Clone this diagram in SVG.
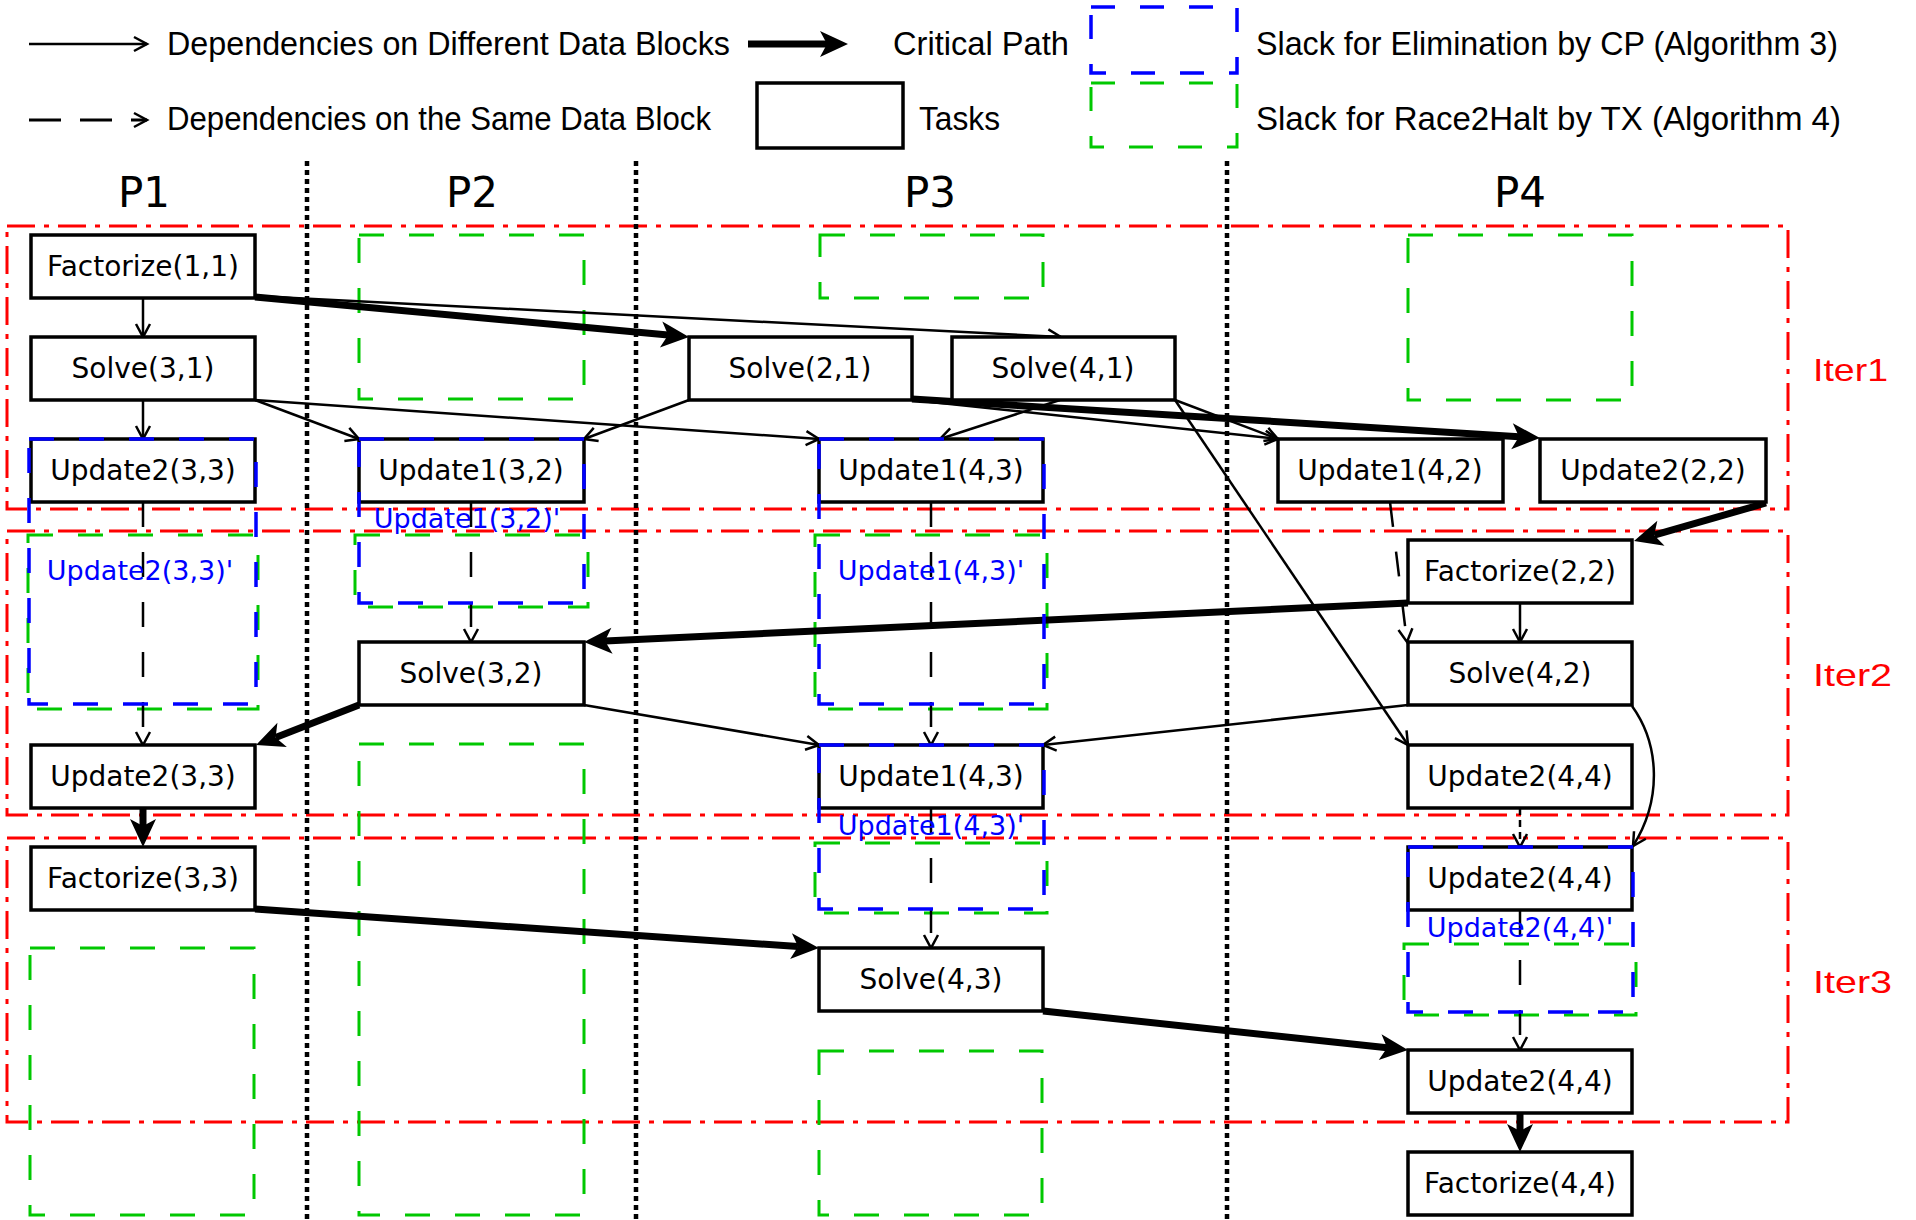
<svg xmlns="http://www.w3.org/2000/svg" width="1916" height="1220" viewBox="0 0 1916 1220">
<defs>
<style>
.task rect{fill:#fff;stroke:#000;stroke-width:3.5}
.task text{font-family:"DejaVu Sans",sans-serif;font-size:28px;text-anchor:middle;fill:#000}
.lbl{font-family:"Liberation Sans",sans-serif;font-size:33px;fill:#000}
.iter{font-family:"Liberation Sans",sans-serif;font-size:32px;fill:#ff0000}
.proc{font-family:"DejaVu Sans",sans-serif;font-size:42px;text-anchor:middle;fill:#000}
.prime{font-family:"DejaVu Sans",sans-serif;font-size:27px;text-anchor:middle;fill:#0000ff}
.red{fill:none;stroke:#ff0000;stroke-width:3;stroke-dasharray:28 9 5 9}
.div{stroke:#000;stroke-width:4.5;stroke-dasharray:5 4}
.green{fill:none;stroke:#00c800;stroke-width:3;stroke-dasharray:25 25}
.blue{fill:none;stroke:#0000ff;stroke-width:3.5;stroke-dasharray:25 25}
.thin{fill:none;stroke:#000;stroke-width:2.5;marker-end:url(#mthin)}
.dash{fill:none;stroke:#000;stroke-width:2.5;stroke-dasharray:25 25;marker-end:url(#mthin)}
.dashs{fill:none;stroke:#000;stroke-width:2.5;stroke-dasharray:7 5;marker-end:url(#mthin)}
.thick{fill:none;stroke:#000;stroke-width:7;marker-end:url(#mthick)}
</style>
<marker id="mthin" markerUnits="userSpaceOnUse" orient="auto" overflow="visible" markerWidth="1" markerHeight="1" refX="0" refY="0">
<path d="M-13,-7 L0,0 L-13,7" fill="none" stroke="#000" stroke-width="2.5"/>
</marker>
<marker id="mthick" markerUnits="userSpaceOnUse" orient="auto" overflow="visible" markerWidth="1" markerHeight="1" refX="7" refY="0">
<path d="M0,-13 L28,0 L0,13 L7,0 Z" fill="#000"/>
</marker>
</defs>
<rect width="1916" height="1220" fill="#fff"/>

<g id="legend">
<line x1="29" y1="44" x2="147" y2="44" class="thin"/>
<text class="lbl" x="167" y="55" textLength="563" lengthAdjust="spacingAndGlyphs">Dependencies on Different Data Blocks</text>
<line x1="748" y1="44" x2="827" y2="44" class="thick"/>
<text class="lbl" x="893" y="55" textLength="176" lengthAdjust="spacingAndGlyphs">Critical Path</text>
<line x1="29" y1="120" x2="147" y2="120" fill="none" stroke="#000" stroke-width="3" stroke-dasharray="32 19" marker-end="url(#mthin)"/>
<text class="lbl" x="167" y="130" textLength="544" lengthAdjust="spacingAndGlyphs">Dependencies on the Same Data Block</text>
<rect x="757" y="83" width="146" height="65" fill="#fff" stroke="#000" stroke-width="3.5"/>
<text class="lbl" x="919" y="130" textLength="81" lengthAdjust="spacingAndGlyphs">Tasks</text>
<rect x="1091" y="7" width="146" height="66" class="blue" style="stroke-dasharray:24 25"/>
<text class="lbl" x="1256" y="55" textLength="582" lengthAdjust="spacingAndGlyphs">Slack for Elimination by CP (Algorithm 3)</text>
<rect x="1091" y="83" width="146" height="64" class="green" style="stroke-dasharray:24 25"/>
<text class="lbl" x="1256" y="130" textLength="585" lengthAdjust="spacingAndGlyphs">Slack for Race2Halt by TX (Algorithm 4)</text>
</g>

<g id="iterations">
<rect x="7" y="226" width="1781" height="283" class="red"/>
<rect x="7" y="531" width="1781" height="284" class="red"/>
<rect x="7" y="838" width="1781" height="284" class="red"/>
<text class="iter" x="1813" y="381" textLength="75" lengthAdjust="spacingAndGlyphs">Iter1</text>
<text class="iter" x="1813" y="686" textLength="79" lengthAdjust="spacingAndGlyphs">Iter2</text>
<text class="iter" x="1813" y="993" textLength="79" lengthAdjust="spacingAndGlyphs">Iter3</text>
</g>

<g id="processors">
<line x1="307" y1="161" x2="307" y2="1220" class="div"/>
<line x1="636" y1="161" x2="636" y2="1220" class="div"/>
<line x1="1227" y1="161" x2="1227" y2="1220" class="div"/>
<text class="proc" x="144" y="207">P1</text>
<text class="proc" x="472" y="207">P2</text>
<text class="proc" x="930" y="207">P3</text>
<text class="proc" x="1520" y="207">P4</text>
</g>

<g id="slack-race2halt">
<rect x="359" y="235" width="225" height="164" class="green"/>
<rect x="820" y="235" width="223" height="63" class="green"/>
<rect x="1408" y="235" width="224" height="165" class="green"/>
<rect x="28" y="535" width="230" height="174" class="green"/>
<rect x="355" y="535" width="233" height="72" class="green"/>
<rect x="815" y="535" width="232" height="174" class="green"/>
<rect x="359" y="744" width="225" height="471" class="green"/>
<rect x="815" y="843" width="232" height="70" class="green"/>
<rect x="1404" y="944" width="232" height="71" class="green"/>
<rect x="30" y="948" width="224" height="267" class="green"/>
<rect x="819" y="1051" width="223" height="164" class="green"/>
</g>

<g id="connectors">
<line x1="143" y1="298" x2="143" y2="337" class="thin"/>
<line x1="143" y1="400" x2="143" y2="439" class="thin"/>
<line x1="255" y1="400" x2="359" y2="439" class="thin"/>
<line x1="255" y1="400" x2="819" y2="439" class="thin"/>
<line x1="689" y1="400" x2="584" y2="439" class="thin"/>
<line x1="255" y1="296" x2="1061" y2="337" class="thin"/>
<line x1="1060" y1="400" x2="940" y2="439" class="thin"/>
<line x1="1175" y1="400" x2="1278" y2="439" class="thin"/>
<line x1="1175" y1="400" x2="1408" y2="745" class="thin"/>
<line x1="912" y1="400" x2="1278" y2="439" class="thin"/>
<line x1="1520" y1="603" x2="1520" y2="642" class="thin"/>
<line x1="1408" y1="705" x2="1043" y2="745" class="thin"/>
<line x1="584" y1="705" x2="819" y2="745" class="thin"/>
<path d="M1632,706 C1660,745 1662,800 1633,846" class="thin"/>

<line x1="143" y1="502" x2="143" y2="745" class="dash"/>
<line x1="471" y1="502" x2="471" y2="642" class="dash"/>
<line x1="931" y1="502" x2="931" y2="745" class="dash"/>
<line x1="931" y1="808" x2="931" y2="948" class="dash"/>
<line x1="1390" y1="502" x2="1407" y2="642" class="dash"/>
<line x1="1520" y1="808" x2="1520" y2="847" class="dashs"/>
<line x1="1520" y1="910" x2="1520" y2="1050" class="dash"/>

<line x1="255" y1="297" x2="668.1" y2="335.1" class="thick"/>
<line x1="912" y1="399" x2="1519" y2="436.7" class="thick"/>
<line x1="1766" y1="503" x2="1654.2" y2="535.2" class="thick" stroke-linejoin="round"/>
<line x1="1408" y1="603" x2="605" y2="641" class="thick"/>
<line x1="359" y1="705" x2="275.6" y2="737.4" class="thick"/>
<line x1="143" y1="808" x2="143" y2="826" class="thick"/>
<line x1="255" y1="909" x2="798" y2="946.6" class="thick"/>
<line x1="1043" y1="1011" x2="1387.1" y2="1047.8" class="thick"/>
<line x1="1520" y1="1113" x2="1520" y2="1131" class="thick"/>
</g>

<g id="factorize-1-1" class="task"><rect x="31" y="235" width="224" height="63"/><text x="143" y="276">Factorize(1,1)</text></g>
<g id="solve-3-1" class="task"><rect x="31" y="337" width="224" height="63"/><text x="143" y="378">Solve(3,1)</text></g>
<g id="update2-3-3-a" class="task"><rect x="31" y="439" width="224" height="63"/><text x="143" y="480">Update2(3,3)</text></g>
<g id="update1-3-2" class="task"><rect x="359" y="439" width="225" height="63"/><text x="471" y="480">Update1(3,2)</text></g>
<g id="solve-2-1" class="task"><rect x="689" y="337" width="223" height="63"/><text x="800" y="378">Solve(2,1)</text></g>
<g id="solve-4-1" class="task"><rect x="952" y="337" width="223" height="63"/><text x="1063" y="378">Solve(4,1)</text></g>
<g id="update1-4-3-a" class="task"><rect x="819" y="439" width="224" height="63"/><text x="931" y="480">Update1(4,3)</text></g>
<g id="update1-4-2" class="task"><rect x="1278" y="439" width="225" height="63"/><text x="1390" y="480">Update1(4,2)</text></g>
<g id="update2-2-2" class="task"><rect x="1540" y="439" width="226" height="63"/><text x="1653" y="480">Update2(2,2)</text></g>
<g id="factorize-2-2" class="task"><rect x="1408" y="540" width="224" height="63"/><text x="1520" y="581">Factorize(2,2)</text></g>
<g id="solve-3-2" class="task"><rect x="359" y="642" width="225" height="63"/><text x="471" y="683">Solve(3,2)</text></g>
<g id="solve-4-2" class="task"><rect x="1408" y="642" width="224" height="63"/><text x="1520" y="683">Solve(4,2)</text></g>
<g id="update2-3-3-b" class="task"><rect x="31" y="745" width="224" height="63"/><text x="143" y="786">Update2(3,3)</text></g>
<g id="update1-4-3-b" class="task"><rect x="819" y="745" width="224" height="63"/><text x="931" y="786">Update1(4,3)</text></g>
<g id="update2-4-4-a" class="task"><rect x="1408" y="745" width="224" height="63"/><text x="1520" y="786">Update2(4,4)</text></g>
<g id="factorize-3-3" class="task"><rect x="31" y="847" width="224" height="63"/><text x="143" y="888">Factorize(3,3)</text></g>
<g id="update2-4-4-b" class="task"><rect x="1408" y="847" width="224" height="63"/><text x="1520" y="888">Update2(4,4)</text></g>
<g id="solve-4-3" class="task"><rect x="819" y="948" width="224" height="63"/><text x="931" y="989">Solve(4,3)</text></g>
<g id="update2-4-4-c" class="task"><rect x="1408" y="1050" width="224" height="63"/><text x="1520" y="1091">Update2(4,4)</text></g>
<g id="factorize-4-4" class="task"><rect x="1408" y="1152" width="224" height="63"/><text x="1520" y="1193">Factorize(4,4)</text></g>

<g id="slack-elimination">
<rect x="29" y="439" width="227" height="265" class="blue"/>
<rect x="359" y="439" width="225" height="164" class="blue"/>
<rect x="819" y="439" width="225" height="265" class="blue"/>
<rect x="819" y="745" width="225" height="164" class="blue"/>
<rect x="1408" y="847" width="225" height="165" class="blue"/>
<text class="prime" x="467" y="528">Update1(3,2)'</text>
<text class="prime" x="140" y="580">Update2(3,3)'</text>
<text class="prime" x="931" y="580">Update1(4,3)'</text>
<text class="prime" x="931" y="835">Update1(4,3)'</text>
<text class="prime" x="1520" y="937">Update2(4,4)'</text>
</g>
</svg>
